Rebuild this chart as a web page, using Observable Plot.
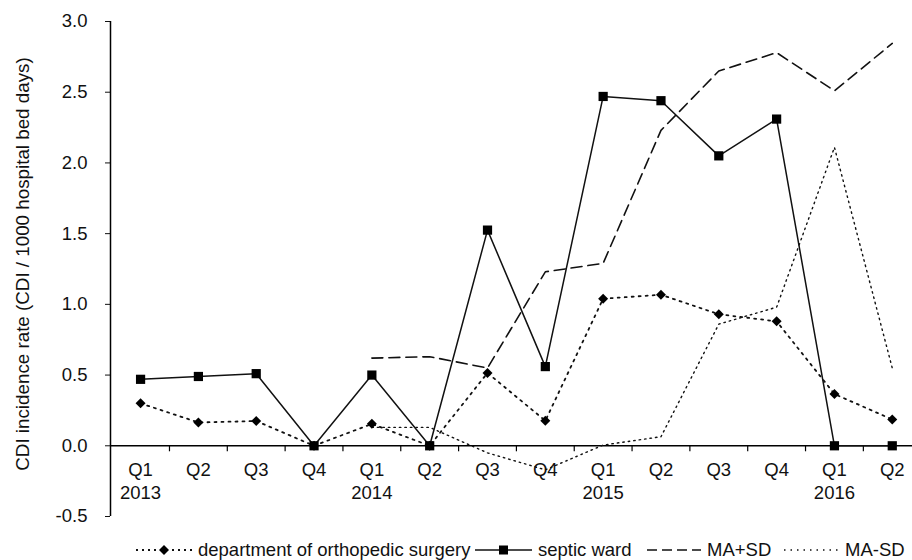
<!DOCTYPE html>
<html><head><meta charset="utf-8">
<script src="https://cdn.jsdelivr.net/npm/d3@7"></script>
<script src="https://cdn.jsdelivr.net/npm/@observablehq/plot@0.6"></script>
<style>
body{margin:0;background:#fff;font-family:"Liberation Sans",Arial,sans-serif;}
#wrap{position:relative;width:912px;height:560px;overflow:hidden;}
#legend{position:absolute;top:541px;left:0;width:912px;height:18px;font-size:18.5px;color:#111;}
.item{position:absolute;top:0;height:18px;white-space:nowrap;}
.item svg{position:absolute;top:3px;left:0;}
.item span{position:absolute;top:0;line-height:18px;}
</style></head><body><div id="wrap"><div id="chart"></div><div id="legend"></div></div>
<script>
const quarters = ["Q1","Q2","Q3","Q4","Q1","Q2","Q3","Q4","Q1","Q2","Q3","Q4","Q1","Q2"];
const years = ["2013","","","","2014","","","","2015","","","","2016",""];
const ortho = [0.30,0.165,0.175,0.0,0.155,0.0,0.515,0.177,1.04,1.068,0.93,0.88,0.366,0.186];
const septic = [0.47,0.49,0.51,0.0,0.50,0.0,1.525,0.56,2.47,2.44,2.05,2.31,0.0,0.0];
const maPlus = [null,null,null,null,0.62,0.63,0.55,1.23,1.29,2.23,2.65,2.78,2.51,2.845];
const maMinus = [null,null,null,null,0.13,0.13,-0.05,-0.17,0.005,0.064,0.86,0.98,2.11,0.55];
const yTicks = [-0.5,0,0.5,1.0,1.5,2.0,2.5,3.0];
const yLabel = "CDI incidence rate (CDI / 1000 hospital bed days)";
const seriesNames = ["department of orthopedic surgery","septic ward","MA+SD","MA-SD"];

const idx = quarters.map((_, i) => i);
const rows = vals => idx.map(i => ({i, v: vals[i]})).filter(d => d.v != null);
const bounds = idx.slice(0, idx.length - 1).map(i => i + 0.5);
const xMin = -0.52;

const plot = Plot.plot({
  width: 912, height: 530,
  marginLeft: 110, marginRight: 0, marginTop: 21, marginBottom: 14,
  style: {fontFamily: "'Liberation Sans', Arial, sans-serif", fontSize: "18.5px", color: "#111", background: "white", overflow: "visible"},
  x: {type: "linear", domain: [xMin, 13.35], axis: null},
  y: {domain: [-0.5, 3.0], ticks: yTicks, tickFormat: d => d.toFixed(1), tickSize: 5, tickPadding: 18,
      label: null},
  marks: [
    Plot.text([yLabel], {frameAnchor: "left", textAnchor: "middle", lineAnchor: "middle", dx: -88, dy: -5, rotate: -90, fontSize: 18.8, fill: "#111"}),
    Plot.ruleX([xMin], {stroke: "#000", strokeWidth: 1.5}),
    Plot.ruleY([0], {stroke: "#000", strokeWidth: 1.5}),
    Plot.ruleX(bounds, {y1: 0, y2: 0, insetBottom: -6, stroke: "#000", strokeWidth: 1.2}),
    Plot.text(idx, {x: d => d, y: 0, text: i => quarters[i], dy: 24, fill: "#111"}),
    Plot.text(idx, {x: d => d, y: 0, text: i => years[i], dy: 47, fill: "#111"}),
    Plot.line(rows(maMinus), {x: "i", y: "v", stroke: "#111", strokeWidth: 1.4, strokeDasharray: "1.5,4"}),
    Plot.line(rows(maPlus), {x: "i", y: "v", stroke: "#111", strokeWidth: 1.6, strokeDasharray: "11,6"}),
    Plot.line(rows(ortho), {x: "i", y: "v", stroke: "#111", strokeWidth: 1.8, strokeDasharray: "2,5"}),
    Plot.line(rows(septic), {x: "i", y: "v", stroke: "#111", strokeWidth: 1.5}),
    Plot.dot(rows(ortho), {x: "i", y: "v", symbol: "diamond2", r: 4.5, fill: "#000", stroke: "none"}),
    Plot.dot(rows(septic), {x: "i", y: "v", symbol: "square", r: 5.2, fill: "#000", stroke: "none"})
  ]
});
document.getElementById("chart").appendChild(plot);

const legendItems = [
  {name: seriesNames[0], left: 136, w: 56, dash: "2,4", sw: 1.8, marker: "diamond"},
  {name: seriesNames[1], left: 475, w: 57, dash: null, sw: 1.5, marker: "square"},
  {name: seriesNames[2], left: 647, w: 54, dash: "10,5", sw: 1.4, marker: null},
  {name: seriesNames[3], left: 784, w: 55, dash: "1.5,5", sw: 1.3, marker: null}
];
const legend = d3.select("#legend");
for (const it of legendItems) {
  const div = legend.append("div").attr("class", "item").style("left", it.left + "px");
  const svg = div.append("svg").attr("width", it.w).attr("height", 12);
  svg.append("line").attr("x1", 0).attr("x2", it.w).attr("y1", 6).attr("y2", 6)
    .attr("stroke", "#111").attr("stroke-width", it.sw).attr("stroke-dasharray", it.dash);
  const cx = it.w / 2;
  if (it.marker === "diamond") svg.append("path").attr("d", `M${cx},1L${cx+5},6L${cx},11L${cx-5},6Z`).attr("fill", "#000");
  if (it.marker === "square") svg.append("rect").attr("x", cx - 4.5).attr("y", 1.5).attr("width", 9).attr("height", 9).attr("fill", "#000");
  div.append("span").style("left", (it.w + 6) + "px").text(it.name);
}
</script>
</body></html>
